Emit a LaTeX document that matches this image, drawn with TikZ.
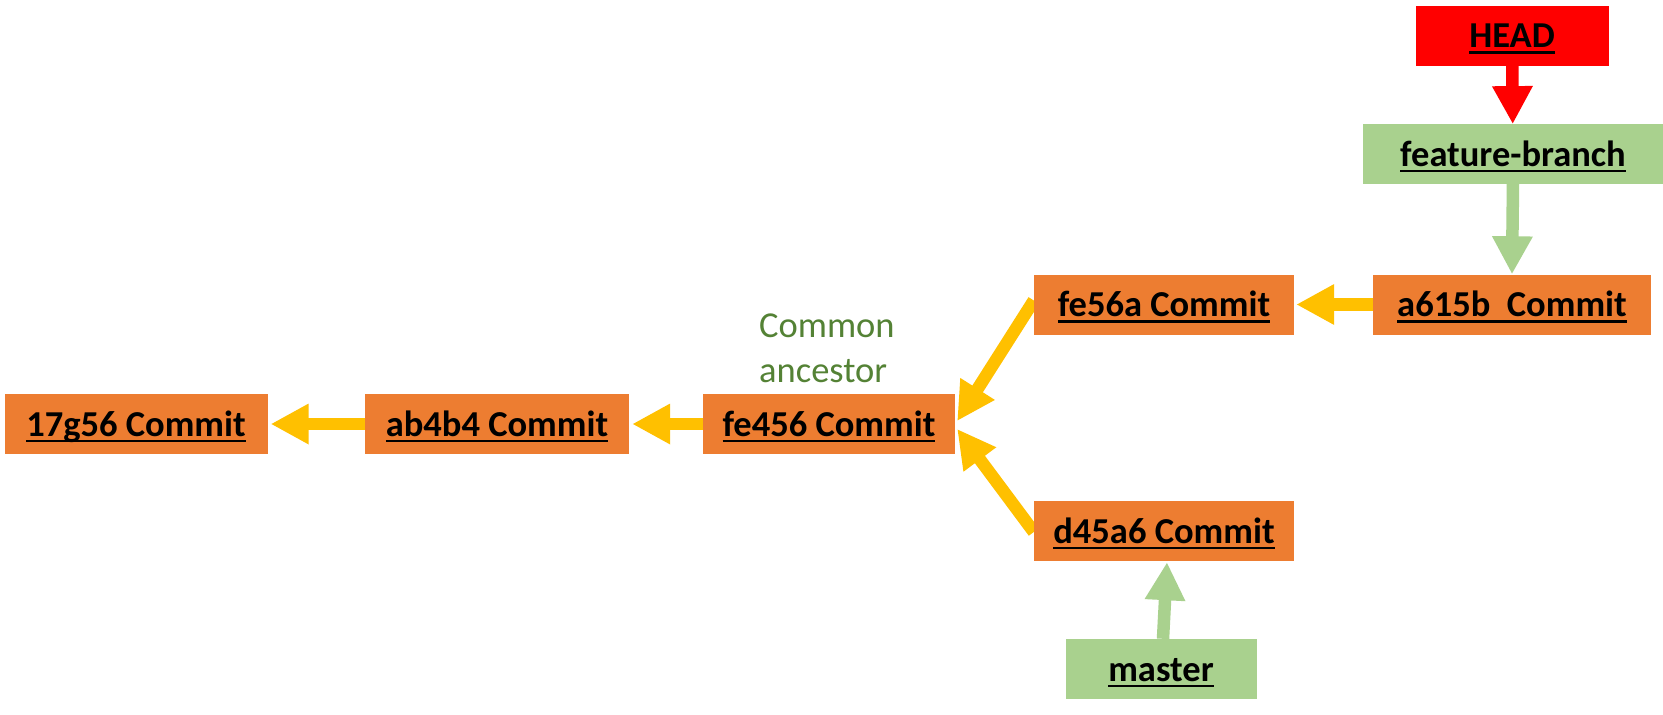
\documentclass[tikz,border=0pt]{standalone}
\usepackage{fontspec}
\setmainfont{Carlito}
\usetikzlibrary{arrows.meta}
\pgfdeclarelayer{background}
\pgfdeclarelayer{canvas}
\pgfsetlayers{canvas,background,main}
\definecolor{orng}{HTML}{ED7D31}
\definecolor{lgreen}{HTML}{A9D18E}
\definecolor{yel}{HTML}{FFC000}
\definecolor{dgreen}{HTML}{548235}
\definecolor{hred}{HTML}{FF0000}
\newcommand\myul[1]{\setbox0\hbox{#1}\rlap{\rule[-6pt]{\wd0}{2.2pt}}\box0}
\tikzset{
  box/.style={fill=#1, minimum height=60pt, inner sep=0pt, text height=24pt, text depth=0pt,
    font=\bfseries\fontsize{36.5}{44}\selectfont},
  arr/.style={draw=#1, line width=12.5pt, -{Triangle[width=38pt,length=38pt]}},
}
\begin{document}
\begin{tikzpicture}[x=1pt,y=-1pt]
\begin{pgfonlayer}{canvas}
\fill[white] (0,0) rectangle (1663,715);
\end{pgfonlayer}
\useasboundingbox (0,0) rectangle (1663,715);
\node[box=hred, minimum width=193pt] (head) at (1512,35.5) {\myul{HEAD}};
\node[box=lgreen, minimum width=300pt] (fb) at (1513,154.3) {\myul{feature-branch}};
\node[box=orng, minimum width=278pt] (a615b) at (1512,304.5) {\myul{a615b\ \ Commit}};
\node[box=orng, minimum width=260pt] (fe56a) at (1164,304.5) {\myul{fe56a Commit}};
\node[box=orng, minimum width=252pt] (fe456) at (829,424) {\myul{fe456 Commit}};
\node[box=orng, minimum width=264pt] (ab4b4) at (497,424) {\myul{ab4b4 Commit}};
\node[box=orng, minimum width=263pt] (g17) at (136,424) {\myul{17g56 Commit}};
\node[box=orng, minimum width=260pt] (d45a6) at (1164,531) {\myul{d45a6 Commit}};
\node[box=lgreen, minimum width=191pt] (master) at (1161,669) {\myul{master}};
\node[anchor=south west, inner sep=0pt, align=left, text=dgreen,
  font=\fontsize{36.5}{45}\selectfont] (common) at (759,383) {Common\\ancestor};
\begin{pgfonlayer}{background}
\draw[arr=hred] (head) -- (fb);
\draw[arr=lgreen] ([yshift=2pt]fb.south) -- (a615b.north);
\draw[arr=yel] (a615b.west) -- ([xshift=2pt]fe56a.east);
\draw[arr=yel] ([yshift=4pt]fe56a.west) -- ([shift={(2,-3)}]fe456.east);
\draw[arr=yel] ([yshift=-1pt]d45a6.west) -- ([shift={(2,5)}]fe456.east);
\draw[arr=yel] (fe456.west) -- ([xshift=3pt]ab4b4.east);
\draw[arr=yel] (ab4b4.west) -- ([xshift=3pt]g17.east);
\draw[arr=lgreen] ([xshift=2pt]master.north) -- ([shift={(3,1)}]d45a6.south);
\end{pgfonlayer}
\end{tikzpicture}
\end{document}
